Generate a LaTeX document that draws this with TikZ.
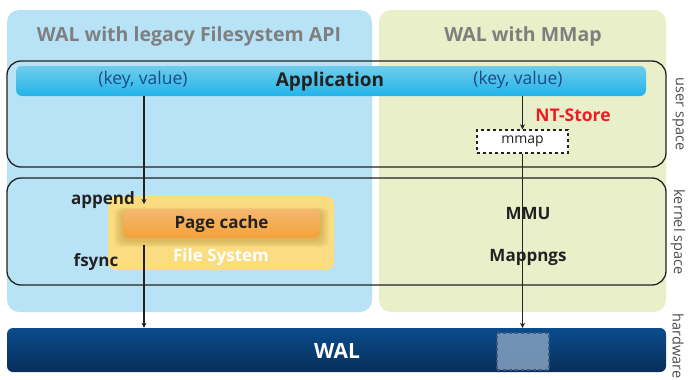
\documentclass[tikz,border=0pt]{standalone}
\usepackage{fontspec}
\setmainfont{Open Sans}
\usetikzlibrary{arrows.meta}

\definecolor{legacybg}{HTML}{B8E3F7}
\definecolor{mmapbg}{HTML}{E9F0C9}
\definecolor{apptop}{HTML}{6FCDEB}
\definecolor{appbot}{HTML}{22B4E9}
\definecolor{fsyellow}{HTML}{FBDC80}
\definecolor{pctop}{HTML}{F5B870}
\definecolor{pcbot}{HTML}{F4A23A}
\definecolor{waltop}{HTML}{0B4C8D}
\definecolor{walbot}{HTML}{072E5A}
\definecolor{slotfill}{HTML}{7D9BBA}
\definecolor{kvblue}{HTML}{1C4B88}
\definecolor{titlegrey}{HTML}{7F7F7F}
\definecolor{ink}{HTML}{222222}
\definecolor{ntred}{HTML}{EE1C25}
\definecolor{shadowtone}{HTML}{A07A20}

\begin{document}
\begin{tikzpicture}[x=1pt,y=-1pt,
  panel/.style={rounded corners=12pt, inner sep=0pt, draw=none},
  spacebox/.style={rounded corners=14pt, draw=ink, line width=1.3pt, inner sep=0pt},
  bar/.style={rounded corners=6pt, inner sep=0pt, draw=none},
  ttl/.style={font=\fontsize{19.5}{23}\selectfont\bfseries, text=titlegrey},
  lbl/.style={font=\fontsize{17}{20}\selectfont\bfseries, text=ink},
  kv/.style={font=\fontsize{17.5}{21}\selectfont, text=kvblue},
  side/.style={font=\fontsize{14.5}{17}\selectfont, text=ink!80, rotate=-90},
  flow/.style={draw=ink, line width=1.3pt, -{Stealth[length=5pt,width=5pt]}}
]
\useasboundingbox (0,0) rectangle (688,380);

% background panels
\node[panel, fill=legacybg, minimum width=365, minimum height=302] (leftpanel) at (189.5,161) {};
\node[panel, fill=mmapbg, minimum width=287, minimum height=302] (rightpanel) at (522.5,161) {};
\node[ttl] (titleL) at (189,36) {WAL with legacy Filesystem API};
\node[ttl] (titleR) at (523,36) {WAL with MMap};

% user / kernel space frames
\node[spacebox, minimum width=659, minimum height=106] (userbox) at (336.5,114) {};
\node[spacebox, minimum width=659, minimum height=107] (kernelbox) at (336.5,231.5) {};

% application bar
\node[bar, top color=apptop, bottom color=appbot, minimum width=630, minimum height=30] (appbar) at (331,81) {};
\node[font=\fontsize{19}{22}\selectfont\bfseries, text=ink] (apptext) at (330,82) {Application};
\node[kv] (kvL) at (143,80) {(key, value)};
\node[kv] (kvR) at (518,80) {(key, value)};

% file system with page cache and its soft drop shadow
\node[rounded corners=8pt, fill=fsyellow, minimum width=226, minimum height=74, inner sep=0pt] (fsbox) at (221,233) {};
\foreach \s in {1,...,9}{
  \fill[shadowtone, opacity=0.045, rounded corners=7pt]
    (123-\s,211-\s*0.4) rectangle (320+\s,240+\s*0.8);
}
\node[bar, top color=pctop, bottom color=pcbot, minimum width=197, minimum height=29] (pagecache) at (221.5,223.5) {};
\node[lbl] (pctext) at (221.5,224) {Page cache};
\node[font=\fontsize{17}{20}\selectfont\bfseries, text=white] (fstext) at (221,257) {File System};
\node[lbl] (append) at (103,200) {append};
\node[lbl] (fsync) at (96,262) {fsync};

% mmap side
\node[font=\fontsize{17.5}{21}\selectfont\bfseries, text=ntred] (ntstore) at (573,115) {NT-Store};
\node[draw=ink, dashed, line width=1.3pt, fill=white, minimum width=91, minimum height=23, inner sep=0pt,
      font=\fontsize{14}{16}\selectfont, text=ink] (mmapbox) at (522.5,141.5) {mmap};
\node[lbl] (mmu) at (528,214) {MMU};
\node[lbl] (mappings) at (528,257) {Mappngs};

% hardware
\node[bar, top color=waltop, bottom color=walbot, minimum width=659, minimum height=44] (walbar) at (336.5,350) {};
\node[font=\fontsize{21}{24}\selectfont\bfseries, text=white] (waltext) at (337,350.5) {WAL};
\node[draw=walbot!80, dashed, line width=1.2pt, fill=slotfill, fill opacity=0.9, minimum width=52, minimum height=37, inner sep=0pt] (walslot) at (523,351.5) {};

% side labels
\node[side] (userlbl) at (678,114) {user space};
\node[side] (kernellbl) at (678,232) {kernel space};
\node[side] (hwlbl) at (678,346) {hardware};

% connectors
\coordinate (appendend) at (144,204);
\coordinate (fsyncstart) at (144,245);
\draw[flow] (appbar.south -| appendend) -- (appendend);
\draw[flow] (fsyncstart) -- (walbar.north -| fsyncstart);
\draw[flow] (appbar.south -| mmapbox) -- (mmapbox.north);
\draw[flow] (mmapbox.south) -- (walbar.north -| mmapbox);
\end{tikzpicture}
\end{document}
